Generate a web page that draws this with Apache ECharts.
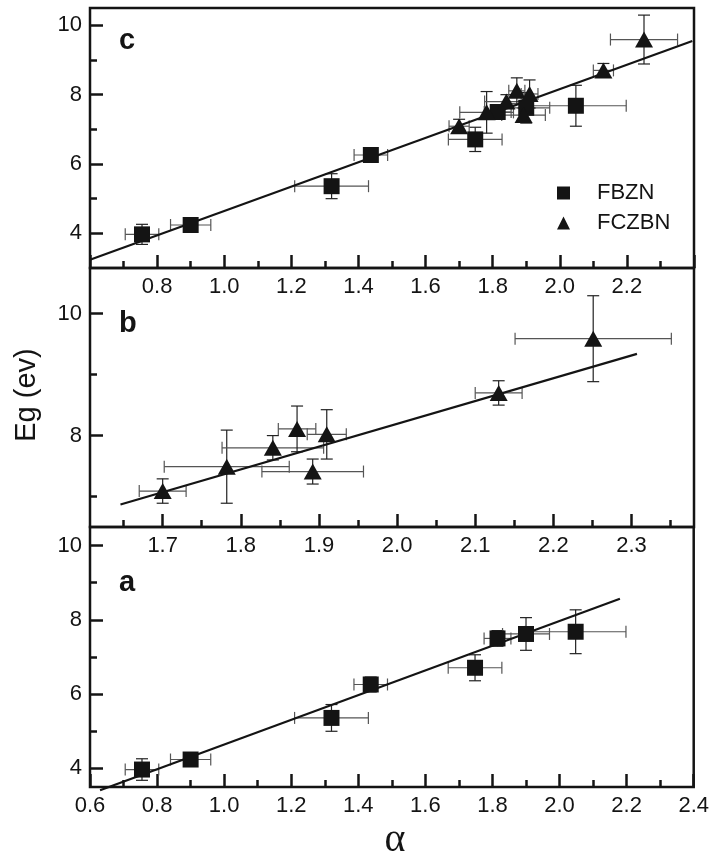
<!DOCTYPE html>
<html>
<head>
<meta charset="utf-8">
<script src="https://cdn.jsdelivr.net/npm/echarts@6/dist/echarts.min.js"></script>
<style>
  html, body { margin: 0; padding: 0; background: #fff; }
  #chart { width: 712px; height: 857px; }
</style>
</head>
<body>
<div id="chart"></div>
<script>
// FBZN (squares): alpha, Eg and half error bars
const alphaFBZN = [0.755, 0.90, 1.32, 1.437, 1.748, 1.815, 1.90, 2.048];
const egFBZN = [3.97, 4.24, 5.36, 6.26, 6.71, 7.50, 7.62, 7.68];
const alphaErrFBZN = [0.05, 0.06, 0.11, 0.05, 0.08, 0.04, 0.07, 0.15];
const egErrFBZN = [0.29, 0.18, 0.36, 0.2, 0.35, 0.21, 0.44, 0.59];

// FCZBN (triangles)
const alphaFCZBN = [1.70, 1.782, 1.841, 1.872, 1.910, 1.892, 2.130, 2.251];
const egFCZBN = [7.09, 7.49, 7.80, 8.11, 8.02, 7.41, 8.70, 9.59];
const alphaErrFCZBN = [0.03, 0.08, 0.065, 0.024, 0.025, 0.065, 0.03, 0.10];
const egErrFCZBN = [0.2, 0.6, 0.2, 0.375, 0.405, 0.205, 0.2, 0.705];

// linear fits (end points)
const fitC = [[0.6, 3.24], [2.395, 9.55]];
const fitB = [[1.646, 6.87], [2.307, 9.34]];
const fitA = [[0.63, 3.41], [2.18, 8.57]];

// tick labels
const xMajorCA = [0.6, 0.8, 1.0, 1.2, 1.4, 1.6, 1.8, 2.0, 2.2, 2.4];
const xLabelsC = [0.8, 1.0, 1.2, 1.4, 1.6, 1.8, 2.0, 2.2];
const xMinorCA = [0.7, 0.9, 1.1, 1.3, 1.5, 1.7, 1.9, 2.1, 2.3];
const xMajorB = [1.7, 1.8, 1.9, 2.0, 2.1, 2.2, 2.3];
const xMinorB = [1.65, 1.75, 1.85, 1.95, 2.05, 2.15, 2.25, 2.35];
const yMajorCA = [4, 6, 8, 10];
const yMinorCA = [5, 7, 9];
const yMajorB = [8, 10];
const yMinorB = [7, 9];

const FONT = '"Liberation Sans", Arial, sans-serif';
const INK = '#141414';

var myChart = echarts.init(document.getElementById('chart'));

// join arrays into [x, y, dx, dy] rows
function rows(xs, ys, dxs, dys) {
    return xs.map((x, i) => [x, ys[i], dxs ? dxs[i] : 0, dys ? dys[i] : 0]);
}

// error bars with caps
function renderErr(params, api) {
    var x = api.value(0), y = api.value(1), dx = api.value(2), dy = api.value(3);
    var l = api.coord([x - dx, y]), r = api.coord([x + dx, y]);
    var t = api.coord([x, y + dy]), b = api.coord([x, y - dy]);
    var cap = 6;
    var sh = { stroke: '#555', lineWidth: 1.2 };
    var sv = { stroke: '#222', lineWidth: 1.2 };
    var seg = (x1, y1, x2, y2, st) => ({ type: 'line', shape: { x1: x1, y1: y1, x2: x2, y2: y2 }, style: st });
    return {
        type: 'group',
        children: [
            seg(l[0], l[1], r[0], r[1], sh),
            seg(l[0], l[1] - cap, l[0], l[1] + cap, sh),
            seg(r[0], r[1] - cap, r[0], r[1] + cap, sh),
            seg(t[0], t[1], b[0], b[1], sv),
            seg(t[0] - cap, t[1], t[0] + cap, t[1], sv),
            seg(b[0] - cap, b[1], b[0] + cap, b[1], sv)
        ]
    };
}

function xAx(grid, min, max, ticks, labels, len) {
    return {
        type: 'value', gridIndex: grid, min: min, max: max, position: 'bottom',
        axisLine: { show: false },
        splitLine: { show: false },
        axisTick: { show: true, inside: true, length: len, customValues: ticks,
                    lineStyle: { color: INK, width: 2.5 } },
        axisLabel: labels ? { show: true, customValues: labels, margin: 8,
                              fontSize: 22, color: INK, fontFamily: FONT,
                              formatter: v => v.toFixed(1) }
                          : { show: false }
    };
}

function yAx(grid, min, max, ticks, labels, len) {
    return {
        type: 'value', gridIndex: grid, min: min, max: max, position: 'left',
        axisLine: { show: false },
        splitLine: { show: false },
        axisTick: { show: true, inside: true, length: len, customValues: ticks,
                    lineStyle: { color: INK, width: 2.5 } },
        axisLabel: labels ? { show: true, customValues: labels, margin: 8,
                              fontSize: 22, color: INK, fontFamily: FONT }
                          : { show: false }
    };
}

var gridStyle = { left: 90, right: 18, show: true, borderColor: INK, borderWidth: 2.5,
                  backgroundColor: 'transparent' };

var sq = { symbol: 'rect', symbolSize: 16, itemStyle: { color: INK, opacity: 1 } };
var tri = { symbol: 'triangle', symbolSize: [18, 16], itemStyle: { color: INK, opacity: 1 } };

var option = {
    animation: false,
    backgroundColor: '#fff',
    grid: [
        Object.assign({ top: 8, height: 260 }, gridStyle),
        Object.assign({ top: 268, height: 259 }, gridStyle),
        Object.assign({ top: 527, height: 260 }, gridStyle)
    ],
    xAxis: [
        xAx(0, 0.6, 2.4, xMajorCA, xLabelsC, 13),
        xAx(0, 0.6, 2.4, xMinorCA, null, 7),
        xAx(1, 1.607, 2.38, xMajorB, xMajorB, 13),
        xAx(1, 1.607, 2.38, xMinorB, null, 7),
        xAx(2, 0.6, 2.4, xMajorCA, xMajorCA, 13),
        xAx(2, 0.6, 2.4, xMinorCA, null, 7)
    ],
    yAxis: [
        yAx(0, 3, 10.5, yMajorCA, yMajorCA, 13),
        yAx(0, 3, 10.5, yMinorCA, null, 7),
        yAx(1, 6.5, 10.75, yMajorB, yMajorB, 13),
        yAx(1, 6.5, 10.75, yMinorB, null, 7),
        yAx(2, 3.5, 10.5, yMajorCA, yMajorCA, 13),
        yAx(2, 3.5, 10.5, yMinorCA, null, 7)
    ],
    legend: {
        orient: 'vertical', left: 552, top: 177,
        itemWidth: 13, itemHeight: 13, itemGap: 8,
        data: [{ name: 'FBZN', icon: 'rect' }, { name: 'FCZBN', icon: 'triangle' }],
        itemStyle: { opacity: 1 },
        textStyle: { fontSize: 22, lineHeight: 22, color: INK, fontFamily: FONT,
                     padding: [0, 0, 0, 22] }
    },
    graphic: [
        { type: 'text', left: 119, top: 26, style: { text: 'c', font: 'bold 29px ' + FONT, fill: INK } },
        { type: 'text', left: 119, top: 309, style: { text: 'b', font: 'bold 29px ' + FONT, fill: INK } },
        { type: 'text', left: 119, top: 568, style: { text: 'a', font: 'bold 29px ' + FONT, fill: INK } },
        { type: 'text', x: 27, y: 395, rotation: Math.PI / 2,
          style: { text: 'Eg (ev)', font: '29px ' + FONT, fill: INK, align: 'center', verticalAlign: 'middle' } },
        { type: 'text', x: 395, y: 840,
          style: { text: 'α', font: '40px "Liberation Serif", "Times New Roman", serif', fill: INK,
                   align: 'center', verticalAlign: 'middle' } }
    ],
    series: [
        // panel c
        { type: 'custom', xAxisIndex: 0, yAxisIndex: 0, renderItem: renderErr,
          data: rows(alphaFBZN, egFBZN, alphaErrFBZN, egErrFBZN), z: 1 },
        { type: 'custom', xAxisIndex: 0, yAxisIndex: 0, renderItem: renderErr,
          data: rows(alphaFCZBN, egFCZBN, alphaErrFCZBN, egErrFCZBN), z: 1 },
        { type: 'line', xAxisIndex: 0, yAxisIndex: 0, data: fitC, showSymbol: false, clip: false,
          lineStyle: { color: INK, width: 2.2 }, z: 2 },
        Object.assign({ name: 'FBZN', type: 'scatter', xAxisIndex: 0, yAxisIndex: 0,
          data: rows(alphaFBZN, egFBZN).map(r => r.slice(0, 2)), z: 3 }, sq),
        Object.assign({ name: 'FCZBN', type: 'scatter', xAxisIndex: 0, yAxisIndex: 0,
          data: rows(alphaFCZBN, egFCZBN).map(r => r.slice(0, 2)), z: 3 }, tri),
        // panel b
        { type: 'custom', xAxisIndex: 2, yAxisIndex: 2, renderItem: renderErr,
          data: rows(alphaFCZBN, egFCZBN, alphaErrFCZBN, egErrFCZBN), z: 1 },
        { type: 'line', xAxisIndex: 2, yAxisIndex: 2, data: fitB, showSymbol: false, clip: false,
          lineStyle: { color: INK, width: 2.2 }, z: 2 },
        Object.assign({ name: 'FCZBN', type: 'scatter', xAxisIndex: 2, yAxisIndex: 2,
          data: rows(alphaFCZBN, egFCZBN).map(r => r.slice(0, 2)), z: 3 }, tri),
        // panel a
        { type: 'custom', xAxisIndex: 4, yAxisIndex: 4, renderItem: renderErr,
          data: rows(alphaFBZN, egFBZN, alphaErrFBZN, egErrFBZN), z: 1 },
        { type: 'line', xAxisIndex: 4, yAxisIndex: 4, data: fitA, showSymbol: false, clip: false,
          lineStyle: { color: INK, width: 2.2 }, z: 2 },
        Object.assign({ name: 'FBZN', type: 'scatter', xAxisIndex: 4, yAxisIndex: 4,
          data: rows(alphaFBZN, egFBZN).map(r => r.slice(0, 2)), z: 3 }, sq)
    ]
};

myChart.setOption(option);
</script>
</body>
</html>
